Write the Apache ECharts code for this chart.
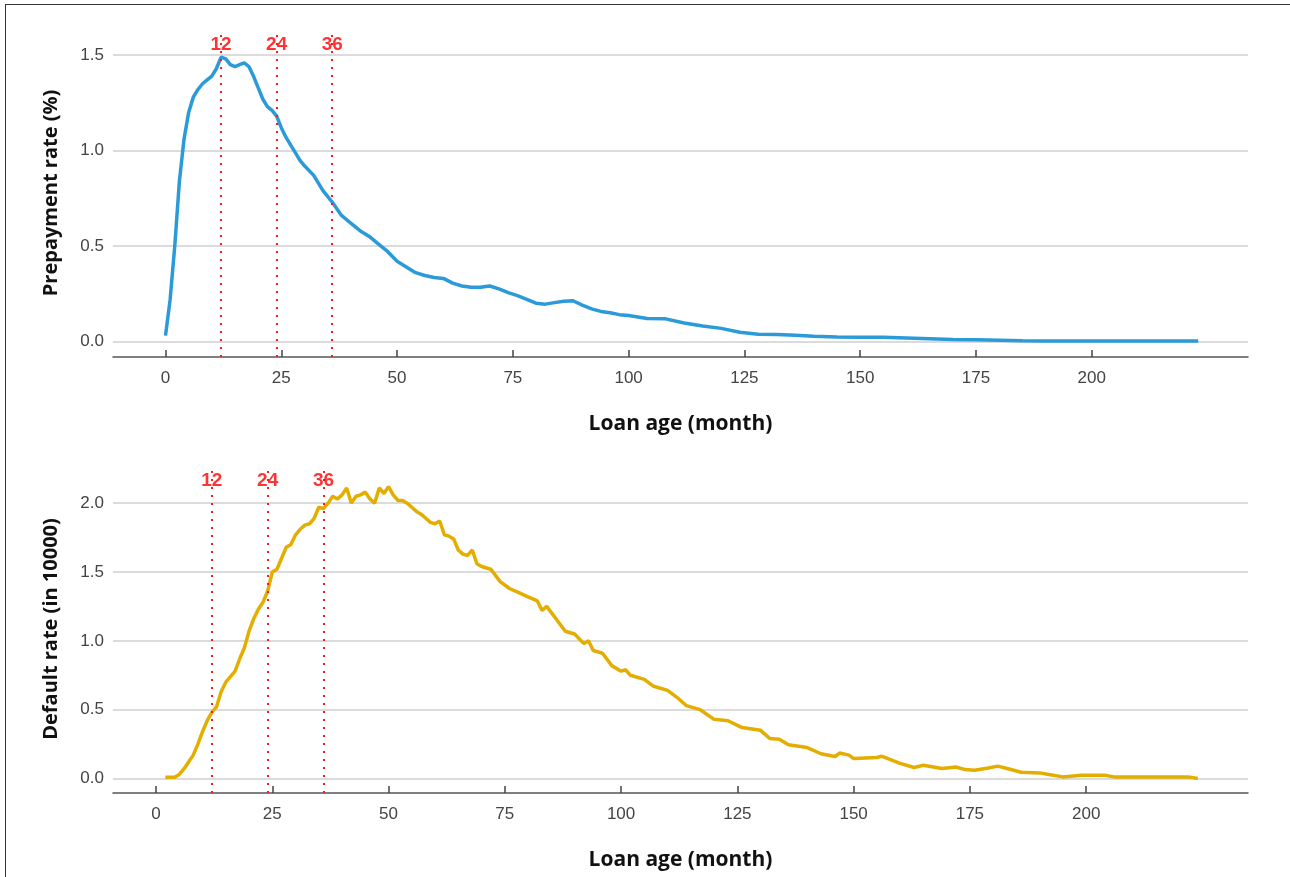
<!DOCTYPE html>
<html>
<head>
<meta charset="utf-8">
<title>Prepayment and default rate by loan age</title>
<script src="https://cdn.jsdelivr.net/npm/echarts@6/dist/echarts.min.js"></script>
<style>
  html, body { margin: 0; padding: 0; background: #fff; overflow: hidden; }
  #chart { width: 1290px; height: 877px; }
  #frame { position: absolute; left: 5px; top: 4px; width: 1300px; height: 900px;
           border-left: 1.5px solid #333; border-top: 1.5px solid #333; pointer-events: none; }
</style>
</head>
<body>
<div id="chart"></div>
<div id="frame"></div>
<script>
// prepayment rate (%) by loan age (month)
var prepayMonths = [0, 1, 2, 3, 4, 5, 6, 7, 8, 9, 10, 11, 12, 13, 14, 15, 16, 17, 18, 19, 20,
  21, 22, 23, 24, 25, 26, 27, 28, 29, 30, 32, 34, 36, 38, 40, 42, 44, 46, 48, 50, 52, 54, 56,
  58, 60, 62, 64, 66, 68, 70, 72, 74, 76, 78, 80, 82, 84, 86, 88, 90, 92, 94, 96, 98, 100, 104,
  108, 112, 116, 120, 124, 128, 132, 136, 140, 145, 150, 155, 160, 165, 170, 175, 180, 185,
  190, 200, 210, 223];
var prepayRate = [0.03, 0.22, 0.5, 0.84, 1.06, 1.2, 1.28, 1.32, 1.35, 1.37, 1.39, 1.43, 1.49,
  1.48, 1.45, 1.44, 1.45, 1.46, 1.44, 1.39, 1.33, 1.27, 1.23, 1.21, 1.18, 1.12, 1.07, 1.03,
  0.99, 0.95, 0.92, 0.87, 0.79, 0.73, 0.66, 0.62, 0.58, 0.55, 0.51, 0.47, 0.42, 0.39, 0.36,
  0.345, 0.335, 0.33, 0.305, 0.29, 0.283, 0.283, 0.29, 0.275, 0.255, 0.24, 0.22, 0.2, 0.195,
  0.203, 0.21, 0.213, 0.19, 0.17, 0.157, 0.15, 0.14, 0.135, 0.12, 0.118, 0.096, 0.08, 0.068,
  0.048, 0.037, 0.036, 0.032, 0.027, 0.023, 0.022, 0.021, 0.018, 0.014, 0.01, 0.008, 0.006,
  0.003, 0.002, 0.002, 0.002, 0.002];

// default rate (in 10000) by loan age (month)
var defaultMonths = [2, 4, 5, 6, 7, 8, 9, 10, 11, 12, 13, 14, 15, 16, 17, 18, 19, 20, 21, 22,
  23, 24, 25, 26, 27, 28, 29, 30, 31, 32, 33, 34, 35, 36, 37, 38, 39, 40, 41, 42, 43, 44, 45,
  46, 47, 48, 49, 50, 51, 52, 53, 54, 55, 56, 57, 58, 59, 60, 61, 62, 63, 64, 65, 66, 67, 68,
  69, 70, 72, 74, 76, 78, 80, 82, 83, 84, 86, 88, 90, 92, 93, 94, 96, 98, 100, 101, 102, 105,
  107, 110, 112, 114, 117, 120, 123, 126, 130, 132, 134, 136, 140, 143, 146, 147, 149, 150,
  155, 156, 160, 163, 165, 169, 172, 174, 176, 179, 181, 183, 186, 190, 192, 195, 199, 204,
  206, 215, 222, 224];
var defaultRate = [0.01, 0.01, 0.03, 0.07, 0.12, 0.17, 0.25, 0.34, 0.42, 0.48, 0.52, 0.63,
  0.7, 0.74, 0.78, 0.87, 0.95, 1.07, 1.16, 1.23, 1.28, 1.36, 1.5, 1.52, 1.6, 1.68, 1.7, 1.77,
  1.81, 1.84, 1.85, 1.89, 1.97, 1.96, 2.0, 2.05, 2.03, 2.06, 2.11, 2.0, 2.05, 2.06, 2.08,
  2.03, 2.0, 2.11, 2.07, 2.12, 2.06, 2.02, 2.02, 2.0, 1.97, 1.94, 1.92, 1.89, 1.86, 1.85,
  1.87, 1.77, 1.76, 1.74, 1.66, 1.63, 1.62, 1.66, 1.56, 1.54, 1.52, 1.43, 1.38, 1.35, 1.32,
  1.29, 1.22, 1.25, 1.16, 1.07, 1.05, 0.98, 1.0, 0.93, 0.91, 0.82, 0.78, 0.79, 0.75, 0.72,
  0.67, 0.64, 0.59, 0.53, 0.5, 0.43, 0.42, 0.37, 0.35, 0.29, 0.285, 0.245, 0.225, 0.18, 0.16,
  0.185, 0.17, 0.145, 0.153, 0.162, 0.11, 0.08, 0.097, 0.073, 0.084, 0.065, 0.06, 0.077,
  0.09, 0.073, 0.046, 0.041, 0.03, 0.012, 0.024, 0.024, 0.012, 0.012, 0.012, 0.0];

var cutoffMonths = [12, 24, 36];
var ageTicks = [0, 25, 50, 75, 100, 125, 150, 175, 200];
var prepayTicks = [0, 0.5, 1.0, 1.5];
var defaultTicks = [0, 0.5, 1.0, 1.5, 2.0];
var prepayLabelY = 1.555;
var defaultLabelY = 2.16;

function pairs(xs, ys) {
  return xs.map(function (x, i) { return [x, ys[i]]; });
}

var font = 'Liberation Sans, Arial, sans-serif';
var titleFont = 'Open Sans, DejaVu Sans, sans-serif';

function xAxisFor(gridIndex, min, max) {
  return {
    type: 'value',
    gridIndex: gridIndex,
    min: min,
    max: max,
    name: 'Loan age (month)',
    nameLocation: 'middle',
    nameGap: 57,
    nameTextStyle: { fontFamily: titleFont, fontWeight: 'bold', fontSize: 21, color: '#111' },
    axisLine: { show: true, onZero: false, lineStyle: { color: '#555', width: 1.5 } },
    axisTick: { show: true, inside: true, length: 7, customValues: ageTicks,
                lineStyle: { color: '#444', width: 1.5 } },
    axisLabel: { customValues: ageTicks, margin: 13, fontFamily: font, fontSize: 17, color: '#444' },
    splitLine: { show: false }
  };
}

function yAxisFor(gridIndex, min, max, ticks, name) {
  return {
    type: 'value',
    gridIndex: gridIndex,
    min: min,
    max: max,
    name: name,
    nameLocation: 'middle',
    nameGap: 52,
    nameTextStyle: { fontFamily: titleFont, fontWeight: 'bold', fontSize: 20, color: '#111' },
    axisLine: { show: false },
    axisTick: { show: false, customValues: ticks },
    axisLabel: { customValues: ticks, margin: 9, fontFamily: font, fontSize: 17, color: '#444',
                 formatter: function (v) { return v.toFixed(1); } },
    splitLine: { show: true, lineStyle: { color: '#cfcfcf', width: 1.5 } }
  };
}

function cutoffLines() {
  return {
    silent: true,
    symbol: 'none',
    label: { show: false },
    lineStyle: { color: '#ff1a1a', type: [2, 6], width: 2 },
    data: cutoffMonths.map(function (m) { return { xAxis: m }; })
  };
}

function cutoffLabels(axisIndex, y) {
  return {
    type: 'scatter',
    xAxisIndex: axisIndex,
    yAxisIndex: axisIndex,
    symbolSize: 1,
    itemStyle: { color: 'rgba(0,0,0,0)' },
    silent: true,
    label: {
      show: true, position: 'inside', color: '#ff0000', fontFamily: font, fontSize: 19,
      fontWeight: 'bold',
      formatter: function (p) { return String(p.value[0]); }
    },
    data: cutoffMonths.map(function (m) { return [m, y]; }),
    z: 5
  };
}

var chart = echarts.init(document.getElementById('chart'));
chart.setOption({
  animation: false,
  grid: [
    { left: 113, right: 42, top: 29, height: 328 },
    { left: 113, right: 42, top: 465, height: 328 }
  ],
  xAxis: [xAxisFor(0, -11.34, 233.75), xAxisFor(1, -9.25, 234.8)],
  yAxis: [
    yAxisFor(0, -0.082, 1.637, prepayTicks, 'Prepayment rate (%)'),
    yAxisFor(1, -0.105, 2.277, defaultTicks, 'Default rate (in 10000)')
  ],
  series: [
    {
      type: 'line',
      xAxisIndex: 0,
      yAxisIndex: 0,
      data: pairs(prepayMonths, prepayRate),
      showSymbol: false,
      lineStyle: { color: '#2a9ad8', width: 3.5 },
      markLine: cutoffLines(),
      z: 3
    },
    {
      type: 'line',
      xAxisIndex: 1,
      yAxisIndex: 1,
      data: pairs(defaultMonths, defaultRate),
      showSymbol: false,
      lineStyle: { color: '#e3ae00', width: 3.5 },
      markLine: cutoffLines(),
      z: 3
    },
    cutoffLabels(0, prepayLabelY),
    cutoffLabels(1, defaultLabelY)
  ]
});
</script>
</body>
</html>
